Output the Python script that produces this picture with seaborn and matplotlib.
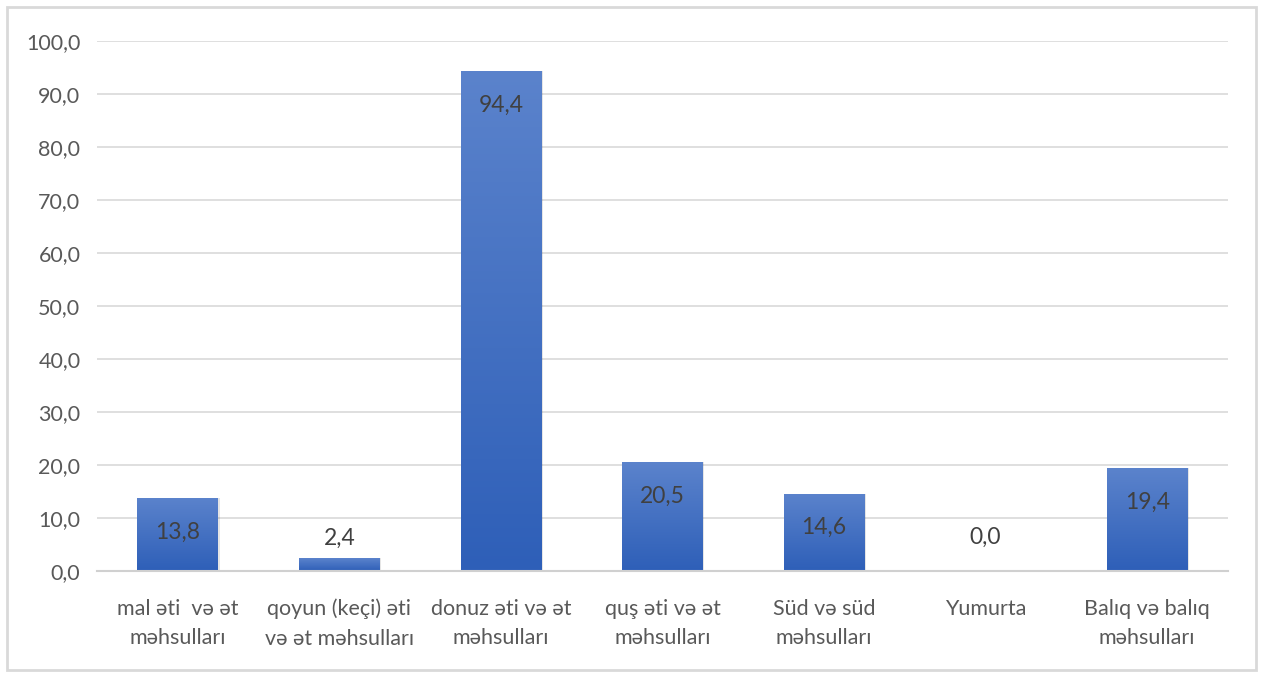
import numpy as np
import pandas as pd
import matplotlib
matplotlib.use("Agg")
import matplotlib.pyplot as plt
import seaborn as sns
from matplotlib.colors import LinearSegmentedColormap
from matplotlib.patches import Rectangle

categories = ["mal əti  və ət\nməhsulları", "qoyun (keçi) əti\nvə ət məhsulları",
              "donuz əti və ət\nməhsulları", "quş əti və ət\nməhsulları",
              "Süd və süd\nməhsulları", "Yumurta", "Balıq və balıq\nməhsulları"]
values = [13.8, 2.4, 94.4, 20.5, 14.6, 0.0, 19.4]
yticks = [0, 10, 20, 30, 40, 50, 60, 70, 80, 90, 100]

sns.set_theme(style="white")
plt.rcParams['font.family'] = ['Lato', 'DejaVu Sans']

fig = plt.figure(figsize=(12.62, 6.75), dpi=100)
ax = fig.add_axes([0.0769, 0.154, 0.8961, 0.785])

df = pd.DataFrame({"cat": categories, "val": values})
sns.barplot(data=df, x="cat", y="val", color="#4472C4", width=0.5, ax=ax, zorder=3)

ax.set_ylim(0, 100)
ax.set_xlim(-0.5, len(categories) - 0.5)
ax.set_yticks(yticks)
ax.set_yticklabels([f"{v:.1f}".replace(".", ",") for v in yticks])
ax.yaxis.grid(True, color="#D9D9D9", linewidth=1.2, zorder=0)
ax.set_axisbelow(True)
for s in ["left", "right", "top"]:
    ax.spines[s].set_visible(False)
ax.spines["bottom"].set_color("#D0D0D0")
ax.spines["bottom"].set_linewidth(1.5)
ax.spines["bottom"].set_zorder(4)
ax.set_xlabel("")
ax.set_ylabel("")
ax.tick_params(axis="both", length=0, labelsize=15.5, colors="#595959", pad=12)
ax.tick_params(axis="x", pad=20)
for lab in ax.get_xticklabels():
    lab.set_linespacing(1.6)

# gradient fill for bars
cmap = LinearSegmentedColormap.from_list("g", ["#2E5FB8", "#5B83CC"])
grad = np.linspace(0, 1, 256).reshape(-1, 1)
for p in ax.patches:
    x0, y0 = p.get_x(), p.get_y()
    w, h = p.get_width(), p.get_height()
    p.set_edgecolor("none")
    p.set_linewidth(0)
    if h <= 0:
        continue
    sh = Rectangle((x0 + 0.01, y0), w, h, facecolor="#000000", alpha=0.10,
                   edgecolor="none", zorder=2.5)
    ax.add_patch(sh)
    im = ax.imshow(grad, extent=[x0, x0 + w, y0, y0 + h], origin="lower",
                   cmap=cmap, aspect="auto", zorder=3.2)
    im.set_clip_path(p)
ax.set_xlim(-0.5, len(categories) - 0.5)
ax.set_ylim(0, 100)

# value labels
for i, v in enumerate(values):
    txt = f"{v:.1f}".replace(".", ",")
    if v >= 10:
        ax.annotate(txt, (i, v), xytext=(0, -17), textcoords="offset points",
                    ha="center", va="top", fontsize=16.5, color="#404040", zorder=5)
    else:
        off = 6.5 if v > 0 else 16.5
        ax.annotate(txt, (i, v), xytext=(0, off), textcoords="offset points",
                    ha="center", va="bottom", fontsize=16.5, color="#404040", zorder=5)

# figure border
fig.add_artist(Rectangle((7 / 1262, 5 / 675), 1249 / 1262, 663 / 675,
                         transform=fig.transFigure, fill=False,
                         edgecolor="#D9D9D9", linewidth=2))

fig.savefig("out.png", dpi=100)
